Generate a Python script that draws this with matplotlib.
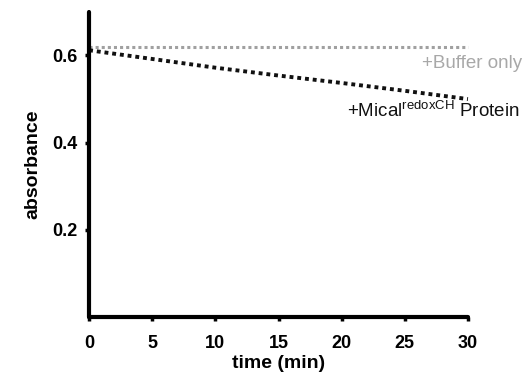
import numpy as np
import matplotlib
matplotlib.use("Agg")
import matplotlib.pyplot as plt

plt.rcParams['font.family'] = ['Liberation Sans', 'DejaVu Sans']

# data
time = [0, 5, 10, 15, 20, 25, 30]
buffer_only = [0.620, 0.620, 0.620, 0.620, 0.620, 0.620, 0.620]
mical = [0.612, 0.592, 0.572, 0.554, 0.537, 0.519, 0.500]

x_ticks = [0, 5, 10, 15, 20, 25, 30]
y_ticks = [0.2, 0.4, 0.6]


def main():
    fig = plt.figure(figsize=(5.24, 3.83), dpi=100)
    ax = fig.add_axes([0.170, 0.172, 0.723, 0.797])

    ax.plot(time, buffer_only, color='#a0a0a0', linestyle=(0, (1, 1)),
            linewidth=2.2, clip_on=False)
    ax.plot(time, mical, color='#111111', linestyle=(0, (1, 1)),
            linewidth=2.8, clip_on=False)

    ax.text(34.3, 0.582, '+Buffer only', color='#a8a8a8', fontsize=13.5,
            ha='right', va='center', clip_on=False)
    ax.text(34.1, 0.473, r'+Mical$^{\mathregular{redoxCH}}$ Protein',
            color='#111111', fontsize=13.5, ha='right', va='center',
            clip_on=False)

    ax.set_xlim(0, 30)
    ax.set_ylim(0, 0.7)
    ax.set_xticks(x_ticks)
    ax.set_yticks(y_ticks)
    ax.set_xticklabels([str(t) for t in x_ticks], fontweight='bold', fontsize=13)
    ax.set_yticklabels([str(t) for t in y_ticks], fontweight='bold', fontsize=13)
    ax.tick_params(length=3, width=2.5, direction='out')
    ax.tick_params(axis='x', pad=10)
    ax.tick_params(axis='y', pad=5)

    for side in ['top', 'right']:
        ax.spines[side].set_visible(False)
    for side in ['left', 'bottom']:
        ax.spines[side].set_linewidth(3)
        ax.spines[side].set_capstyle('round')

    ax.set_xlabel('time (min)', fontweight='bold', fontsize=14, labelpad=2)
    ax.set_ylabel('absorbance', fontweight='bold', fontsize=14, labelpad=8)

    fig.savefig('out.png', dpi=100)


if __name__ == "__main__":
    main()
